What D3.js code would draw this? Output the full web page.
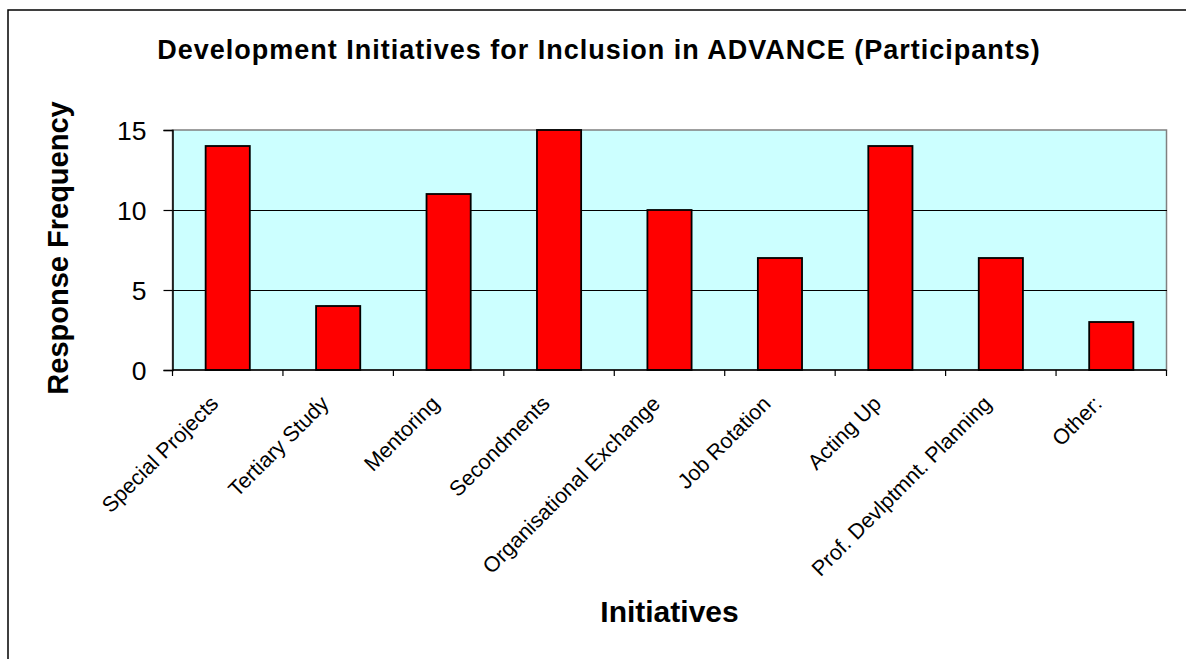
<!DOCTYPE html>
<html>
<head>
<meta charset="utf-8">
<script src="https://cdn.jsdelivr.net/npm/d3@7"></script>
<style>
  html, body { margin: 0; padding: 0; background: #fff; overflow: hidden; }
  svg { display: block; }
  text { font-family: Arial, "Liberation Sans", Helvetica, sans-serif; fill: #000; }
</style>
</head>
<body>
<svg id="chart" width="1186" height="659"></svg>
<script>
// Survey responses per development initiative
const categories = [
  "Special Projects", "Tertiary Study", "Mentoring", "Secondments",
  "Organisational Exchange", "Job Rotation", "Acting Up",
  "Prof. Devlptmnt. Planning", "Other:"
];
const responses = [14, 4, 11, 15, 10, 7, 14, 7, 3];
const yTicks = [0, 5, 10, 15];

const titleText = "Development Initiatives for Inclusion in ADVANCE (Participants)";
const xTitle = "Initiatives";
const yTitle = "Response Frequency";

const svg = d3.select("#chart");
const plot = { left: 172.5, right: 1166.5, top: 130, bottom: 370 };

// Chart area frame (runs past the right and bottom of the view)
svg.append("rect")
  .attr("x", 8).attr("y", 10)
  .attr("width", 1190).attr("height", 670)
  .attr("fill", "#fff").attr("stroke", "#000").attr("stroke-width", 1.5);

const x = d3.scaleBand()
  .domain(categories)
  .range([plot.left, plot.right])
  .paddingInner(0.6).paddingOuter(0.3);

const xEdge = d3.scalePoint()
  .domain(d3.range(categories.length + 1))
  .range([plot.left, plot.right]);

const y = d3.scaleLinear().domain([0, 15]).range([plot.bottom, plot.top]);

// Plot background
svg.append("rect")
  .attr("x", plot.left).attr("y", plot.top)
  .attr("width", plot.right - plot.left).attr("height", plot.bottom - plot.top)
  .attr("fill", "#CCFFFF").attr("stroke", "#808080").attr("stroke-width", 1.5);

// Horizontal gridlines
svg.append("g").selectAll("line")
  .data(yTicks.filter(t => t > 0 && t < 15))
  .join("line")
  .attr("x1", plot.left).attr("x2", plot.right)
  .attr("y1", d => y(d) + 0.5).attr("y2", d => y(d) + 0.5)
  .attr("stroke", "#000").attr("stroke-width", 1)
  .attr("shape-rendering", "crispEdges");

// Bars
svg.append("g").selectAll("rect")
  .data(categories.map((c, i) => ({ c, v: responses[i] })))
  .join("rect")
  .attr("x", d => x(d.c))
  .attr("width", x.bandwidth())
  .attr("y", d => y(d.v))
  .attr("height", d => y(0) - y(d.v))
  .attr("fill", "#FF0000")
  .attr("stroke", "#000").attr("stroke-width", 1.8);

// Y axis
const yAxis = svg.append("g")
  .attr("transform", `translate(${plot.left},0)`)
  .call(d3.axisLeft(y).tickValues(yTicks).tickSize(9).tickPadding(17).tickFormat(d3.format("d")));
yAxis.select(".domain").attr("stroke", "#000").attr("stroke-width", 1.5);
yAxis.selectAll(".tick line").attr("stroke", "#000").attr("stroke-width", 1.2);
yAxis.selectAll(".tick text")
  .style("font-size", "26.5px")
  .attr("dy", "0.36em");

// X axis line and category boundary ticks
svg.append("line")
  .attr("x1", plot.left).attr("x2", plot.right)
  .attr("y1", plot.bottom).attr("y2", plot.bottom)
  .attr("stroke", "#000").attr("stroke-width", 1.5);
svg.append("g").selectAll("line")
  .data(xEdge.domain())
  .join("line")
  .attr("x1", d => xEdge(d)).attr("x2", d => xEdge(d))
  .attr("y1", plot.bottom).attr("y2", plot.bottom + 6)
  .attr("stroke", "#000").attr("stroke-width", 1.2);

// Rotated category labels
svg.append("g").selectAll("text")
  .data(categories)
  .join("text")
  .attr("text-anchor", "end")
  .style("font-size", "21.5px")
  .attr("transform", d => {
    const cx = x(d) + x.bandwidth() / 2;
    return `translate(${cx - 8},${plot.bottom + 35}) rotate(-45)`;
  })
  .text(d => d);

// Titles
svg.append("text")
  .attr("x", 599).attr("y", 59)
  .attr("text-anchor", "middle")
  .style("font-size", "27px").style("font-weight", "bold")
  .style("letter-spacing", "1px")
  .text(titleText);

svg.append("text")
  .attr("x", (plot.left + plot.right) / 2).attr("y", 622)
  .attr("text-anchor", "middle")
  .style("font-size", "30px").style("font-weight", "bold")
  .text(xTitle);

svg.append("text")
  .attr("transform", `translate(68,${(plot.top + plot.bottom) / 2 - 2}) rotate(-90)`)
  .attr("text-anchor", "middle")
  .style("font-size", "29px").style("font-weight", "bold")
  .text(yTitle);
</script>
</body>
</html>
